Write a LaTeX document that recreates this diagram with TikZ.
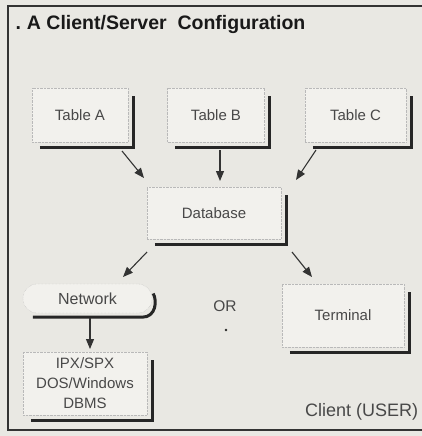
\documentclass[tikz,border=0pt]{standalone}
\usepackage{fontspec}
\setmainfont{Liberation Sans}
\usetikzlibrary{arrows.meta}
\definecolor{paper}{RGB}{233,232,227}
\definecolor{face}{RGB}{242,241,237}
\definecolor{ink}{RGB}{40,40,40}
\tikzset{
  x=1pt, y=-1pt,
  face/.style={draw=gray!55, densely dotted, fill=face, inner sep=0pt,
    font=\fontsize{15}{20}\selectfont, text=ink!85, align=center},
  label/.style={font=\fontsize{15.5}{20}\selectfont, text=ink!85, inner sep=0pt},
  shade/.style={line width=3pt, draw=black!85, line cap=butt},
  link/.style={line width=1.1pt, draw=black!80,
    -{Triangle[length=10pt,width=8pt]}},
  frame/.style={line width=2pt, draw=black!80}
}
\begin{document}
\begin{tikzpicture}
\useasboundingbox (0,0) rectangle (422,436);
\fill[paper] (0,0) rectangle (422,436);
% outer frame
\draw[frame] (422,6) -- (8,6) -- (8,430) -- (422,430);
% title
\node[anchor=west, font=\bfseries\fontsize{19.5}{22}\selectfont, text=black!90] (title) at (12,25) {.\hspace{6pt}A Client/Server\ \ Configuration};

% boxes
\node[face, minimum width=96pt, minimum height=54pt] (ta) at (80,115) {Table A};
\node[face, minimum width=97pt, minimum height=54pt] (tb) at (216,115) {Table B};
\node[face, minimum width=101pt, minimum height=54pt] (tc) at (355.5,115) {Table C};
\node[face, minimum width=134pt, minimum height=52pt] (db) at (214,213) {Database};
\node[face, minimum width=122pt, minimum height=63pt] (term) at (343,315.5) {Terminal};
\node[face, minimum width=124pt, minimum height=63pt] (cli) at (85,383.5) {IPX/SPX\\DOS/Windows\\DBMS};
\node[face, rounded corners=14pt, minimum width=129pt, minimum height=29pt, font=\fontsize{16}{20}\selectfont] (net) at (87.5,298.5) {Network};

% free labels
\node[label] (or) at (225,306) {OR};
\fill[ink] (226,330) circle (1.3pt) coordinate (ordot);
\node[label, anchor=west, font=\fontsize{18}{20}\selectfont] (user) at (305,412) {Client (USER)};

% drop shadows
\foreach \n in {ta,tb,tc,db,term,cli}{
  \draw[shade] ([xshift=8pt,yshift=-5pt]\n.south west) -- ([xshift=5pt,yshift=-5pt]\n.south east)
    -- ([xshift=5pt,yshift=-8pt]\n.north east);
}
\draw[shade] ([xshift=10pt,yshift=-4pt]net.south west) -- ([xshift=-10pt,yshift=-4pt]net.south east)
  .. controls ([xshift=4pt,yshift=-4pt]net.south east) and ([xshift=5pt,yshift=-2pt]net.east) .. ([xshift=1pt,yshift=5pt]net.east);

% connector ends
\coordinate (a0) at (122,151);  \coordinate (a1) at (144,178);
\coordinate (b0) at (220,150);  \coordinate (b1) at (220,181);
\coordinate (c0) at (316,150);  \coordinate (c1) at (296,180);
\coordinate (l0) at (147,252);  \coordinate (l1) at (123,277);
\coordinate (r0) at (292,252);  \coordinate (r1) at (312,277);
\coordinate (n0) at (90,318);   \coordinate (n1) at (90,349);

% connectors
\draw[link] (a0) -- (a1);
\draw[link] (b0) -- (b1);
\draw[link] (c0) -- (c1);
\draw[link] (l0) -- (l1);
\draw[link] (r0) -- (r1);
\draw[link] (n0) -- (n1);
\end{tikzpicture}
\end{document}
